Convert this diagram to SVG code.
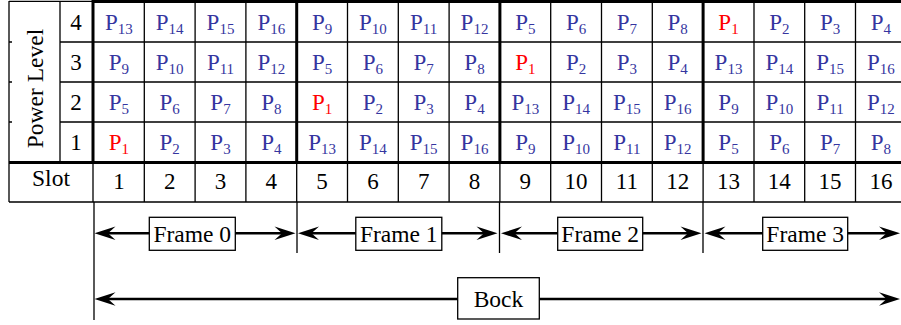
<svg xmlns="http://www.w3.org/2000/svg" width="901" height="325" viewBox="0 0 901 325">
<style>
text{font-family:'Liberation Serif','Times New Roman',Tinos,'DejaVu Serif',serif;font-size:23px;fill:#000}
.p{text-anchor:middle;fill:#3535a0}
.r{text-anchor:middle;fill:#ff0000}
.s{font-size:15px}
.c{text-anchor:middle}
.thin{stroke:#000;stroke-width:1.3;fill:none}
.thick{stroke:#000;stroke-width:3;fill:none}
.arr{stroke:#000;stroke-width:2.4;fill:none;marker-start:url(#ah);marker-end:url(#ah)}
.box{fill:#fff;stroke:#000;stroke-width:1.3}
.lbl{text-anchor:middle;font-size:23.5px}
</style>
<defs>
<marker id="ah" viewBox="-23 -8 24 16" markerWidth="24" markerHeight="16" refX="-8" refY="0" orient="auto-start-reverse" markerUnits="userSpaceOnUse">
<path d="M0,0 L-21,-6.8 L-13.5,0 L-21,6.8 Z" fill="#000"/>
</marker>
</defs>
<rect width="901" height="325" fill="#fff"/>
<g id="table" font-family="Liberation Serif, serif">
<path class="thin" d="M9,1.3 H93 M9,1 V202 M60,1 V162 M60,42 H901 M60,82 H901 M60,122 H901 M9,202 H901 M9,42 H12 M9,82 H12 M9,122 H12"/>
<path class="thin" d="M144.3,2 V202 M195.1,2 V202 M245.9,2 V202 M347.5,2 V202 M398.3,2 V202 M449.1,2 V202 M550.7,2 V202 M601.5,2 V202 M652.3,2 V202 M754,2 V202 M804.7,2 V202 M855.5,2 V202 M93,162 V202 M296.7,162 V202 M499.9,162 V202 M703.1,162 V202"/>
<path class="thick" d="M91.5,1.5 H901 M93,0 V164 M9,162.5 H901 M296.7,0 V164 M499.9,0 V164 M703.1,0 V164"/>
<text x="43" y="88.5" class="c" transform="rotate(-90 43 88.5)" style="font-size:23.5px">Power Level</text>
<text x="76" y="30" class="c">4</text>
<text x="76" y="70" class="c">3</text>
<text x="76" y="110" class="c">2</text>
<text x="76" y="150" class="c">1</text>
<text x="51" y="185.5" class="c" style="font-size:23.5px">Slot</text>
<text x="118.9" y="189" class="c">1</text>
<text x="169.7" y="189" class="c">2</text>
<text x="220.5" y="189" class="c">3</text>
<text x="271.3" y="189" class="c">4</text>
<text x="322.1" y="189" class="c">5</text>
<text x="372.9" y="189" class="c">6</text>
<text x="423.7" y="189" class="c">7</text>
<text x="474.5" y="189" class="c">8</text>
<text x="525.3" y="189" class="c">9</text>
<text x="576.1" y="189" class="c">10</text>
<text x="626.9" y="189" class="c">11</text>
<text x="677.7" y="189" class="c">12</text>
<text x="728.5" y="189" class="c">13</text>
<text x="779.3" y="189" class="c">14</text>
<text x="830.1" y="189" class="c">15</text>
<text x="880.9" y="189" class="c">16</text>
<text x="118.9" y="30" class="p">P<tspan class="s" dy="3.5">13</tspan></text>
<text x="169.7" y="30" class="p">P<tspan class="s" dy="3.5">14</tspan></text>
<text x="220.5" y="30" class="p">P<tspan class="s" dy="3.5">15</tspan></text>
<text x="271.3" y="30" class="p">P<tspan class="s" dy="3.5">16</tspan></text>
<text x="322.1" y="30" class="p">P<tspan class="s" dy="3.5">9</tspan></text>
<text x="372.9" y="30" class="p">P<tspan class="s" dy="3.5">10</tspan></text>
<text x="423.7" y="30" class="p">P<tspan class="s" dy="3.5">11</tspan></text>
<text x="474.5" y="30" class="p">P<tspan class="s" dy="3.5">12</tspan></text>
<text x="525.3" y="30" class="p">P<tspan class="s" dy="3.5">5</tspan></text>
<text x="576.1" y="30" class="p">P<tspan class="s" dy="3.5">6</tspan></text>
<text x="626.9" y="30" class="p">P<tspan class="s" dy="3.5">7</tspan></text>
<text x="677.7" y="30" class="p">P<tspan class="s" dy="3.5">8</tspan></text>
<text x="728.5" y="30" class="r">P<tspan class="s" dy="3.5">1</tspan></text>
<text x="779.3" y="30" class="p">P<tspan class="s" dy="3.5">2</tspan></text>
<text x="830.1" y="30" class="p">P<tspan class="s" dy="3.5">3</tspan></text>
<text x="880.9" y="30" class="p">P<tspan class="s" dy="3.5">4</tspan></text>
<text x="118.9" y="70" class="p">P<tspan class="s" dy="3.5">9</tspan></text>
<text x="169.7" y="70" class="p">P<tspan class="s" dy="3.5">10</tspan></text>
<text x="220.5" y="70" class="p">P<tspan class="s" dy="3.5">11</tspan></text>
<text x="271.3" y="70" class="p">P<tspan class="s" dy="3.5">12</tspan></text>
<text x="322.1" y="70" class="p">P<tspan class="s" dy="3.5">5</tspan></text>
<text x="372.9" y="70" class="p">P<tspan class="s" dy="3.5">6</tspan></text>
<text x="423.7" y="70" class="p">P<tspan class="s" dy="3.5">7</tspan></text>
<text x="474.5" y="70" class="p">P<tspan class="s" dy="3.5">8</tspan></text>
<text x="525.3" y="70" class="r">P<tspan class="s" dy="3.5">1</tspan></text>
<text x="576.1" y="70" class="p">P<tspan class="s" dy="3.5">2</tspan></text>
<text x="626.9" y="70" class="p">P<tspan class="s" dy="3.5">3</tspan></text>
<text x="677.7" y="70" class="p">P<tspan class="s" dy="3.5">4</tspan></text>
<text x="728.5" y="70" class="p">P<tspan class="s" dy="3.5">13</tspan></text>
<text x="779.3" y="70" class="p">P<tspan class="s" dy="3.5">14</tspan></text>
<text x="830.1" y="70" class="p">P<tspan class="s" dy="3.5">15</tspan></text>
<text x="880.9" y="70" class="p">P<tspan class="s" dy="3.5">16</tspan></text>
<text x="118.9" y="110" class="p">P<tspan class="s" dy="3.5">5</tspan></text>
<text x="169.7" y="110" class="p">P<tspan class="s" dy="3.5">6</tspan></text>
<text x="220.5" y="110" class="p">P<tspan class="s" dy="3.5">7</tspan></text>
<text x="271.3" y="110" class="p">P<tspan class="s" dy="3.5">8</tspan></text>
<text x="322.1" y="110" class="r">P<tspan class="s" dy="3.5">1</tspan></text>
<text x="372.9" y="110" class="p">P<tspan class="s" dy="3.5">2</tspan></text>
<text x="423.7" y="110" class="p">P<tspan class="s" dy="3.5">3</tspan></text>
<text x="474.5" y="110" class="p">P<tspan class="s" dy="3.5">4</tspan></text>
<text x="525.3" y="110" class="p">P<tspan class="s" dy="3.5">13</tspan></text>
<text x="576.1" y="110" class="p">P<tspan class="s" dy="3.5">14</tspan></text>
<text x="626.9" y="110" class="p">P<tspan class="s" dy="3.5">15</tspan></text>
<text x="677.7" y="110" class="p">P<tspan class="s" dy="3.5">16</tspan></text>
<text x="728.5" y="110" class="p">P<tspan class="s" dy="3.5">9</tspan></text>
<text x="779.3" y="110" class="p">P<tspan class="s" dy="3.5">10</tspan></text>
<text x="830.1" y="110" class="p">P<tspan class="s" dy="3.5">11</tspan></text>
<text x="880.9" y="110" class="p">P<tspan class="s" dy="3.5">12</tspan></text>
<text x="118.9" y="150" class="r">P<tspan class="s" dy="3.5">1</tspan></text>
<text x="169.7" y="150" class="p">P<tspan class="s" dy="3.5">2</tspan></text>
<text x="220.5" y="150" class="p">P<tspan class="s" dy="3.5">3</tspan></text>
<text x="271.3" y="150" class="p">P<tspan class="s" dy="3.5">4</tspan></text>
<text x="322.1" y="150" class="p">P<tspan class="s" dy="3.5">13</tspan></text>
<text x="372.9" y="150" class="p">P<tspan class="s" dy="3.5">14</tspan></text>
<text x="423.7" y="150" class="p">P<tspan class="s" dy="3.5">15</tspan></text>
<text x="474.5" y="150" class="p">P<tspan class="s" dy="3.5">16</tspan></text>
<text x="525.3" y="150" class="p">P<tspan class="s" dy="3.5">9</tspan></text>
<text x="576.1" y="150" class="p">P<tspan class="s" dy="3.5">10</tspan></text>
<text x="626.9" y="150" class="p">P<tspan class="s" dy="3.5">11</tspan></text>
<text x="677.7" y="150" class="p">P<tspan class="s" dy="3.5">12</tspan></text>
<text x="728.5" y="150" class="p">P<tspan class="s" dy="3.5">5</tspan></text>
<text x="779.3" y="150" class="p">P<tspan class="s" dy="3.5">6</tspan></text>
<text x="830.1" y="150" class="p">P<tspan class="s" dy="3.5">7</tspan></text>
<text x="880.9" y="150" class="p">P<tspan class="s" dy="3.5">8</tspan></text>
</g>
<g id="connectors">
<path class="thin" d="M94,202 V320 M297,202 V253 M499.5,202 V253 M703,202 V253"/>
<line class="arr" x1="102.5" y1="233.3" x2="287.5" y2="233.3"/>
<line class="arr" x1="306" y1="233.3" x2="489.5" y2="233.3"/>
<line class="arr" x1="509" y1="233.3" x2="693.5" y2="233.3"/>
<line class="arr" x1="712.5" y1="233.3" x2="892" y2="233.3"/>
<line class="arr" x1="102.5" y1="299" x2="892" y2="299"/>
</g>
<g id="frame0"><rect class="box" x="149.3" y="217.3" width="86" height="33"/><text class="lbl" x="192.3" y="241.5">Frame 0</text></g>
<g id="frame1"><rect class="box" x="355.8" y="217.3" width="86" height="33"/><text class="lbl" x="398.8" y="241.5">Frame 1</text></g>
<g id="frame2"><rect class="box" x="557.7" y="217.3" width="85" height="33"/><text class="lbl" x="600.2" y="241.5">Frame 2</text></g>
<g id="frame3"><rect class="box" x="762.7" y="217.3" width="85" height="33"/><text class="lbl" x="805.2" y="241.5">Frame 3</text></g>
<g id="block"><rect class="box" x="457.7" y="277.7" width="81.6" height="41.3"/><text class="lbl" x="498.5" y="306.7">Bock</text></g>
</svg>
